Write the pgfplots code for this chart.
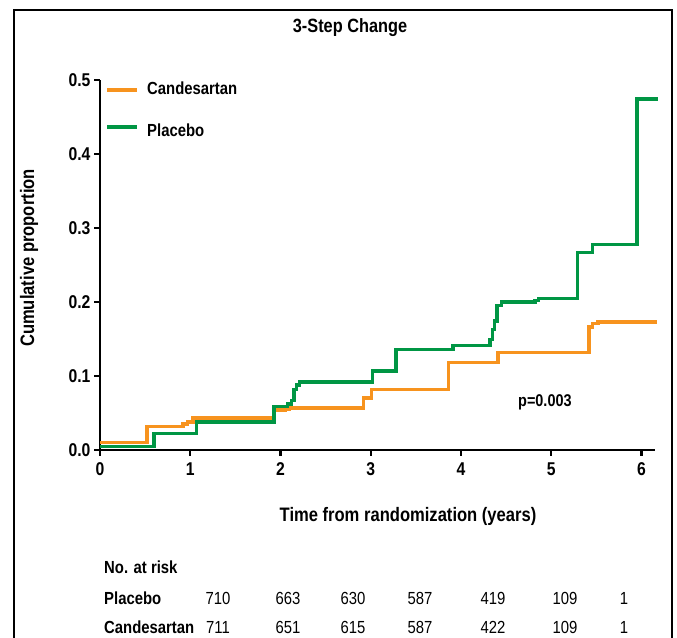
\documentclass[border=0pt]{standalone}
\usepackage{fontspec}
\setmainfont{Liberation Sans}[FakeStretch=0.85]
\usepackage{pgfplots}
\pgfplotsset{compat=1.18}
\definecolor{cand}{RGB}{247,147,30}
\definecolor{plac}{RGB}{0,150,68}
\newcommand{\fs}[1]{\fontsize{#1}{#1}\selectfont}

\begin{document}
\begin{tikzpicture}
% picture is 677 x 637, 1pt per reference pixel; y = 637 - pixel row
\path[use as bounding box] (0pt,0pt) rectangle (677pt,637pt);
\draw[line width=2pt] (14pt,-10pt) -- (14pt,627pt) -- (672pt,627pt) -- (672pt,-10pt);

\begin{axis}[
    at={(100pt,187pt)}, anchor=south west,
    scale only axis, width=555pt, height=370pt,
    xmin=0, xmax=6.15, ymin=0, ymax=0.5,
    axis lines=left,
    axis line style={line width=2.2pt, -},
    xtick={0,1,2,3,4,5,6},
    ytick={0,0.1,0.2,0.3,0.4,0.5},
    tick align=outside,
    major tick length=6pt,
    tick style={line width=2.2pt, black},
    ticklabel style={font=\fs{18.5}\bfseries},
    xticklabel style={yshift=-3pt},
    /pgf/number format/assume math mode=true,
    yticklabel style={/pgf/number format/.cd, fixed, fixed zerofill, precision=1},
    clip=false,
]
% Candesartan
\addplot[cand, line width=3.5pt, const plot] coordinates {
    (0,0.010) (0.52,0.032) (0.92,0.035) (0.97,0.038) (1.03,0.043)
    (1.93,0.054) (2.05,0.055) (2.10,0.057) (2.92,0.070) (3.01,0.082)
    (3.86,0.118) (4.41,0.132) (5.42,0.166) (5.46,0.171) (5.52,0.173)
    (6.17,0.173)
};
% Placebo
\addplot[plac, line width=3.5pt, const plot] coordinates {
    (0,0.005) (0.60,0.022) (1.07,0.038) (1.93,0.059) (2.08,0.062)
    (2.12,0.067) (2.15,0.082) (2.18,0.088) (2.21,0.092) (3.02,0.107)
    (3.28,0.136) (3.91,0.141) (4.32,0.149) (4.35,0.163) (4.37,0.174)
    (4.40,0.195) (4.45,0.200) (4.82,0.202) (4.86,0.205) (5.29,0.267)
    (5.46,0.278) (5.95,0.474) (6.18,0.474)
};
\node[font=\fs{17}\bfseries] at (axis cs:4.93,0.065) {p=0.003};
\end{axis}

% title and axis labels
\node[font=\fs{19.2}\bfseries] at (350pt,609pt) {3-Step Change};
\node[font=\fs{19.5}\bfseries] at (408pt,121pt) {Time from randomization (years)};
\node[font=\fs{19.5}\bfseries, rotate=90] at (29pt,379pt) {Cumulative proportion};

% legend
\draw[cand, line width=4.5pt] (107pt,547pt) -- (137pt,547pt);
\draw[plac, line width=4.5pt] (107pt,510pt) -- (137pt,510pt);
\node[font=\fs{17.5}\bfseries, anchor=base west, inner sep=0pt] at (147pt,542pt) {Candesartan};
\node[font=\fs{17.5}\bfseries, anchor=base west, inner sep=0pt] at (147pt,500pt) {Placebo};

% numbers at risk
\node[font=\fs{17.5}\bfseries, anchor=west, inner sep=0pt] at (104pt,70pt) {No. at risk};
\node[font=\fs{17.5}\bfseries, anchor=west, inner sep=0pt] at (104pt,39pt) {Placebo};
\node[font=\fs{17.5}\bfseries, anchor=west, inner sep=0pt] at (104pt,10pt) {Candesartan};
\foreach \x/\p/\c in {218/710/711, 288/663/651, 353/630/615, 420/587/587,
                      493/419/422, 565/109/109, 624/1/1} {
    \node[font=\fs{17.5}] at (\x pt,39pt) {\p};
    \node[font=\fs{17.5}] at (\x pt,10pt) {\c};
}
\end{tikzpicture}
\end{document}
